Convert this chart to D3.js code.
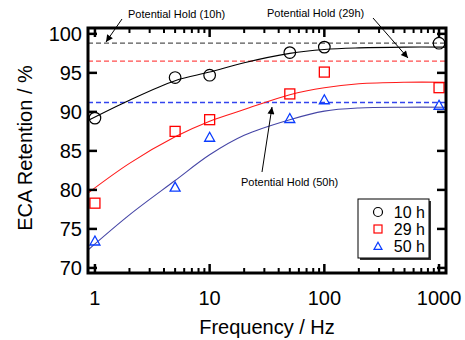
<!DOCTYPE html>
<html>
<head>
<meta charset="utf-8">
<script src="https://cdn.jsdelivr.net/npm/d3@7"></script>
<style>
  body { margin: 0; background: #fff; }
  text { font-family: "Liberation Sans", Arial, sans-serif; fill: #000; }
</style>
</head>
<body>
<div id="chart"></div>
<script>
// measured points
var freq = [1, 5, 10, 50, 100, 1000];
var ret10 = [89.2, 94.4, 94.7, 97.6, 98.3, 98.8];
var ret29 = [78.3, 87.5, 89.0, 92.3, 95.1, 93.1];
var ret50 = [73.4, 80.3, 86.7, 89.1, 91.5, 90.8];

// fitted curves
var fitFreq = [0.87, 2, 5, 10, 20, 50, 100, 200, 500, 1150];
var fit10 = [88.9, 91.5, 94.0, 95.1, 96.3, 97.5, 98.0, 98.2, 98.3, 98.3];
var fit29 = [79.6, 83.4, 86.8, 88.8, 90.3, 92.2, 93.1, 93.6, 93.8, 93.8];
var fit50 = [72.3, 76.8, 81.2, 84.5, 87.0, 89.0, 90.1, 90.5, 90.6, 90.6];

// potential hold levels
var holdLevels = [98.8, 96.5, 91.2];

var yTicks = [70, 75, 80, 85, 90, 95, 100];
var xTicks = [1, 10, 100, 1000];
var seriesNames = ["10 h", "29 h", "50 h"];

var W = 465, H = 340;
var pL = 88, pR = 446, pT = 28, pB = 273;

var x = d3.scaleLog().domain([0.87, 1150]).range([pL, pR]);
var y = d3.scaleLinear().domain([69.35, 100.75]).range([pB, pT]);

var svg = d3.select("#chart").append("svg")
    .attr("width", W).attr("height", H);

var defs = svg.append("defs");
defs.append("clipPath").attr("id", "clip")
  .append("rect").attr("x", pL).attr("y", pT)
  .attr("width", pR - pL).attr("height", pB - pT);

defs.append("marker")
    .attr("id", "arrow").attr("viewBox", "0 0 10 10")
    .attr("refX", 10).attr("refY", 5)
    .attr("markerWidth", 9).attr("markerHeight", 7)
    .attr("markerUnits", "userSpaceOnUse")
    .attr("orient", "auto")
  .append("path").attr("d", "M0,0L10,5L0,10z").attr("fill", "#000");

var plot = svg.append("g").attr("clip-path", "url(#clip)");

// dashed hold lines
var dashCol = ["#555555", "#ff4d4d", "#3344ee"];
plot.selectAll(".hold").data(holdLevels).enter().append("line")
  .attr("x1", pL).attr("x2", pR)
  .attr("y1", function(d) { return y(d); })
  .attr("y2", function(d) { return y(d); })
  .attr("stroke", function(d, i) { return dashCol[i]; })
  .attr("stroke-width", 1.3)
  .attr("stroke-dasharray", "5,3");

// fit curves
var fits = [fit10, fit29, fit50];
var fitCol = ["#000000", "#ff1a1a", "#4646a6"];
var line = d3.line()
  .x(function(d, i) { return x(fitFreq[i]); })
  .y(function(d) { return y(d); })
  .curve(d3.curveCatmullRom.alpha(0.5));
plot.selectAll(".fit").data(fits).enter().append("path")
  .attr("d", line)
  .attr("fill", "none")
  .attr("stroke", function(d, i) { return fitCol[i]; })
  .attr("stroke-width", 1.1);

// markers
var ptsG = svg.append("g");
ptsG.selectAll(".c").data(ret10).enter().append("circle")
  .attr("cx", function(d, i) { return x(freq[i]); })
  .attr("cy", function(d) { return y(d); })
  .attr("r", 5.8)
  .attr("fill", "none").attr("stroke", "#000").attr("stroke-width", 1.2);

ptsG.selectAll(".s").data(ret29).enter().append("rect")
  .attr("x", function(d, i) { return x(freq[i]) - 5; })
  .attr("y", function(d) { return y(d) - 5; })
  .attr("width", 10).attr("height", 10)
  .attr("fill", "none").attr("stroke", "#ff0000").attr("stroke-width", 1.3);

function tri(cx, cy, s) {
  var h = s * 0.9;
  return "M" + cx + "," + (cy - h * 0.6) + "L" + (cx + s / 2) + "," + (cy + h * 0.4) +
    "L" + (cx - s / 2) + "," + (cy + h * 0.4) + "Z";
}
ptsG.selectAll(".t").data(ret50).enter().append("path")
  .attr("d", function(d, i) { return tri(x(freq[i]), y(d), 10); })
  .attr("fill", "none").attr("stroke", "#0a3cff").attr("stroke-width", 1.3);

// frame
svg.append("rect")
  .attr("x", pL).attr("y", pT)
  .attr("width", pR - pL).attr("height", pB - pT)
  .attr("fill", "none").attr("stroke", "#000").attr("stroke-width", 3);

// ticks, inward on all four sides
var minor = [];
[1, 10, 100].forEach(function(dec) {
  for (var k = 2; k <= 9; k++) minor.push(dec * k);
});
var tk = svg.append("g").attr("stroke", "#000");
xTicks.forEach(function(v) {
  tk.append("line").attr("x1", x(v)).attr("x2", x(v)).attr("y1", pB).attr("y2", pB - 9).attr("stroke-width", 2.5);
  tk.append("line").attr("x1", x(v)).attr("x2", x(v)).attr("y1", pT).attr("y2", pT + 9).attr("stroke-width", 2.5);
});
minor.forEach(function(v) {
  tk.append("line").attr("x1", x(v)).attr("x2", x(v)).attr("y1", pB).attr("y2", pB - 5).attr("stroke-width", 2);
  tk.append("line").attr("x1", x(v)).attr("x2", x(v)).attr("y1", pT).attr("y2", pT + 5).attr("stroke-width", 2);
});
yTicks.forEach(function(v) {
  tk.append("line").attr("x1", pL).attr("x2", pL + 9).attr("y1", y(v)).attr("y2", y(v)).attr("stroke-width", 2.5);
  tk.append("line").attr("x1", pR).attr("x2", pR - 9).attr("y1", y(v)).attr("y2", y(v)).attr("stroke-width", 2.5);
});

// tick labels
svg.selectAll(".yl").data(yTicks).enter().append("text")
  .attr("x", 82).attr("y", function(d) { return y(d) + 7.5; })
  .attr("text-anchor", "end").style("font-size", "20px")
  .text(function(d) { return d; });
svg.selectAll(".xl").data(xTicks).enter().append("text")
  .attr("x", function(d) { return x(d); }).attr("y", 305)
  .attr("text-anchor", "middle").style("font-size", "20px")
  .text(function(d) { return d; });

// axis titles
svg.append("text").attr("x", (pL + pR) / 2).attr("y", 334)
  .attr("text-anchor", "middle").style("font-size", "20px")
  .text("Frequency / Hz");
svg.append("text")
  .attr("transform", "translate(32,148) rotate(-90)")
  .attr("text-anchor", "middle").style("font-size", "20px")
  .text("ECA Retention / %");

// annotations
var notes = [
  {t: "Potential Hold (10h)", tx: 128, ty: 18, x1: 122, y1: 19, x2: 106, y2: 42},
  {t: "Potential Hold (29h)", tx: 267, ty: 17, x1: 373, y1: 18, x2: 408, y2: 58},
  {t: "Potential Hold (50h)", tx: 241, ty: 186, x1: 262, y1: 172, x2: 272, y2: 107}
];
notes.forEach(function(n) {
  svg.append("text").attr("x", n.tx).attr("y", n.ty)
    .style("font-size", "11px").text(n.t);
  svg.append("line").attr("x1", n.x1).attr("y1", n.y1).attr("x2", n.x2).attr("y2", n.y2)
    .attr("stroke", "#000").attr("stroke-width", 1).attr("marker-end", "url(#arrow)");
});

// legend
var lg = svg.append("g");
lg.append("rect").attr("x", 360).attr("y", 201).attr("width", 71).attr("height", 59).attr("fill", "#333");
lg.append("rect").attr("x", 358).attr("y", 199).attr("width", 71).attr("height", 59)
  .attr("fill", "#fff").attr("stroke", "#000").attr("stroke-width", 1);
var rowY = [212, 229, 246];
lg.append("circle").attr("cx", 378).attr("cy", rowY[0]).attr("r", 4.5)
  .attr("fill", "none").attr("stroke", "#000").attr("stroke-width", 1.2);
lg.append("rect").attr("x", 374).attr("y", rowY[1] - 4).attr("width", 8).attr("height", 8)
  .attr("fill", "none").attr("stroke", "#ff0000").attr("stroke-width", 1.2);
lg.append("path").attr("d", tri(378, rowY[2] + 0.5, 8))
  .attr("fill", "none").attr("stroke", "#0a3cff").attr("stroke-width", 1.2);
lg.selectAll(".lt").data(seriesNames).enter().append("text")
  .attr("x", 425).attr("y", function(d, i) { return rowY[i] + 5.5; })
  .attr("text-anchor", "end").style("font-size", "16px")
  .text(function(d) { return d; });
</script>
</body>
</html>
